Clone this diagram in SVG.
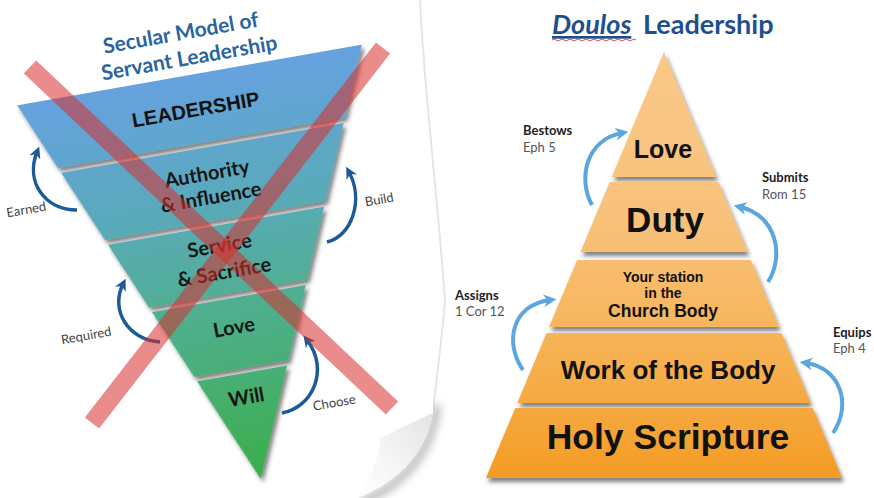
<svg xmlns="http://www.w3.org/2000/svg" width="874" height="498" viewBox="0 0 874 498">
<defs>
<style>
.lbl{font-family:Lato,"Liberation Sans",sans-serif;}
.arial{font-family:"Liberation Sans",Arial,sans-serif;font-weight:bold;fill:#111;}
.lay{font-family:Lato,"Liberation Sans",sans-serif;font-weight:bold;fill:#151515;font-size:20px;text-anchor:middle;}
.darr{fill:none;stroke:#1c5a99;stroke-width:3.5;marker-end:url(#dhead);}
.larr{fill:none;stroke:#5ba6de;stroke-width:4;marker-end:url(#lhead);}
.band{stroke:#d92e2e;stroke-opacity:0.55;stroke-width:18;}
.side{font-family:Lato,"Liberation Sans",sans-serif;font-size:13px;fill:#444;text-anchor:middle;}
.rb{font-family:Lato,"Liberation Sans",sans-serif;font-size:13px;font-weight:bold;fill:#222;}
.rr{font-family:Lato,"Liberation Sans",sans-serif;font-size:13px;fill:#555;}
</style>
<marker id="dhead" viewBox="0 0 10 10" refX="5" refY="5" markerWidth="3.4" markerHeight="3.4" orient="auto" markerUnits="strokeWidth"><path d="M0,0 L10,5 L0,10 L3,5 z" fill="#1c5a99"/></marker>
<marker id="lhead" viewBox="0 0 10 10" refX="5" refY="5" markerWidth="3.2" markerHeight="3.2" orient="auto" markerUnits="strokeWidth"><path d="M0,0 L10,5 L0,10 L3,5 z" fill="#5ba6de"/></marker>
<linearGradient id="gLeft" gradientUnits="userSpaceOnUse" x1="0" y1="0" x2="0" y2="410">
<stop offset="0" stop-color="#66a2df"/>
<stop offset="0.3" stop-color="#5aa9bd"/>
<stop offset="0.6" stop-color="#4faf8c"/>
<stop offset="1" stop-color="#3aae4a"/>
</linearGradient>
<linearGradient id="gRight" gradientUnits="userSpaceOnUse" x1="0" y1="52" x2="0" y2="478">
<stop offset="0" stop-color="#f9c888"/>
<stop offset="0.4" stop-color="#f8c17a"/>
<stop offset="0.6" stop-color="#f7b862"/>
<stop offset="0.8" stop-color="#f6ab44"/>
<stop offset="1" stop-color="#f49c24"/>
</linearGradient>
<linearGradient id="gCurl" x1="1" y1="0" x2="0" y2="1">
<stop offset="0" stop-color="#e2e2e2"/>
<stop offset="0.5" stop-color="#f4f4f4"/>
<stop offset="1" stop-color="#ffffff"/>
</linearGradient>
<filter id="sh" x="-10%" y="-10%" width="130%" height="140%">
<feDropShadow dx="2" dy="4" stdDeviation="2.2" flood-color="#2a2a2a" flood-opacity="0.6"/>
</filter>
<filter id="blur" x="-50%" y="-50%" width="200%" height="200%"><feGaussianBlur stdDeviation="4"/></filter>
</defs>
<rect width="874" height="498" fill="#ffffff"/>

<!-- page edge and curl -->
<g id="page">
<path d="M420,0 C424,90 438,200 445,300 C442,340 436,380 433,413" fill="none" stroke="#e6e6e6" stroke-width="2"/>
<path d="M437,405 C432,450 408,482 362,502" fill="none" stroke="#b8b8b8" stroke-width="8" filter="url(#blur)"/>
<path d="M340,380 L433,380 L433,413 C426,450 402,480 357,498 L340,498 z" fill="#ffffff"/>
<path d="M380,438 L433,413 C426,450 402,480 357,498 C368,480 381,456 380,438 z" fill="url(#gCurl)"/>
</g>

<!-- left title -->
<g id="left-title" transform="translate(182,40) rotate(-10)" font-family="Lato,'Liberation Sans',sans-serif" font-weight="bold" font-size="21" fill="#2a64a0" text-anchor="middle">
<text x="0" y="0">Secular Model of</text>
<text x="4" y="26">Servant Leadership</text>
</g>

<!-- left inverted pyramid -->
<g id="secular-pyramid" transform="translate(189.5,75) rotate(-10)">
<g id="l-leadership"><path d="M-175,0 L175,0 L145.6,69 L-145.6,69 z" fill="url(#gLeft)" filter="url(#sh)"/>
<text class="arial" x="0" y="42" font-size="20" text-anchor="middle">LEADERSHIP</text></g>
<g id="l-authority"><path d="M-143.4,74 L143.4,74 L111.8,148 L-111.8,148 z" fill="url(#gLeft)" filter="url(#sh)"/>
<text class="lay" x="0" y="107">Authority</text><text class="lay" x="0" y="131">&amp; Influence</text></g>
<g id="l-service"><path d="M-109.7,153 L109.7,153 L80.2,222 L-80.2,222 z" fill="url(#gLeft)" filter="url(#sh)"/>
<text class="lay" x="0" y="180">Service</text><text class="lay" x="0" y="207">&amp; Sacrifice</text></g>
<g id="l-love"><path d="M-78.1,227 L78.1,227 L47.8,298 L-47.8,298 z" fill="url(#gLeft)" filter="url(#sh)"/>
<text class="lay" x="0" y="263">Love</text></g>
<g id="l-will"><path d="M-45.7,303 L45.7,303 L0,410 z" fill="url(#gLeft)" filter="url(#sh)"/>
<text class="lay" x="0" y="334">Will</text></g>
</g>

<!-- left connectors -->
<g id="left-connectors">
<path class="darr" d="M77,210 C45,210 25,182 37,152"/>
<path class="darr" d="M327,242 C352,236 364,200 349,172"/>
<path class="darr" d="M160,342 C128,340 110,310 123,284"/>
<path class="darr" d="M282,413 C312,408 330,370 307,340"/>
</g>
<g id="left-labels">
<text class="side" transform="translate(27,214) rotate(-10)">Earned</text>
<text class="side" transform="translate(380,204) rotate(-10)">Build</text>
<text class="side" transform="translate(87,340) rotate(-10)">Required</text>
<text class="side" transform="translate(335,407) rotate(-10)">Choose</text>
</g>

<!-- red X -->
<g id="red-x">
<line class="band" x1="30" y1="67" x2="392" y2="408"/>
<line class="band" x1="383" y1="48" x2="92" y2="423"/>
</g>

<!-- right title -->
<g id="right-title" font-family="Lato,'Liberation Sans',sans-serif" font-weight="bold" font-size="27" fill="#1f4f8f">
<text x="552" y="34" font-style="italic" text-decoration="underline">Doulos</text>
<text x="643" y="34">Leadership</text>
<path d="M552,40 q2,-2 4,0 t4,0 t4,0 t4,0 t4,0 t4,0 t4,0 t4,0 t4,0 t4,0 t4,0 t4,0 t4,0 t4,0 t4,0 t4,0 t4,0 t4,0 t4,0 t4,0 t4,0" fill="none" stroke="#e03030" stroke-width="0.9"/>
</g>

<!-- right pyramid -->
<g id="doulos-pyramid">
<g id="r-love"><path d="M664,52 L716.3,177 L611.7,177 z" fill="url(#gRight)" filter="url(#sh)"/>
<text class="arial" x="663" y="158" font-size="25" text-anchor="middle">Love</text></g>
<g id="r-duty"><path d="M609.7,182 L718.3,182 L747.6,252 L580.4,252 z" fill="url(#gRight)" filter="url(#sh)"/>
<text class="arial" x="665" y="232" font-size="35" text-anchor="middle">Duty</text></g>
<g id="r-station"><path d="M577.1,260 L750.9,260 L779,327 L549,327 z" fill="url(#gRight)" filter="url(#sh)"/>
<text class="arial" x="663" y="282" font-size="14" text-anchor="middle">Your station</text>
<text class="arial" x="663" y="298" font-size="14" text-anchor="middle">in the</text>
<text class="arial" x="663" y="317" font-size="17.5" text-anchor="middle">Church Body</text></g>
<g id="r-work"><path d="M546.5,333 L781.5,333 L810.7,403 L517.3,403 z" fill="url(#gRight)" filter="url(#sh)"/>
<text class="arial" x="668" y="379" font-size="26" text-anchor="middle">Work of the Body</text></g>
<g id="r-holy"><path d="M515.2,408 L812.8,408 L842.1,478 L485.9,478 z" fill="url(#gRight)" filter="url(#sh)"/>
<text class="arial" x="668" y="449" font-size="35.5" text-anchor="middle">Holy Scripture</text></g>
</g>

<!-- right connectors -->
<g id="right-connectors">
<path class="larr" d="M592,205 C578,180 585,140 622,133"/>
<path class="larr" d="M768,282 C785,255 776,215 740,207"/>
<path class="larr" d="M523,370 C505,345 510,305 550,300"/>
<path class="larr" d="M833,433 C852,405 841,368 806,363"/>
</g>
<g id="right-labels">
<text class="rb" x="523" y="135">Bestows</text><text class="rr" x="523" y="152">Eph 5</text>
<text class="rb" x="762" y="182">Submits</text><text class="rr" x="762" y="199">Rom 15</text>
<text class="rb" x="455" y="300">Assigns</text><text class="rr" x="455" y="316">1 Cor 12</text>
<text class="rb" x="833" y="337">Equips</text><text class="rr" x="833" y="353">Eph 4</text>
</g>
</svg>
